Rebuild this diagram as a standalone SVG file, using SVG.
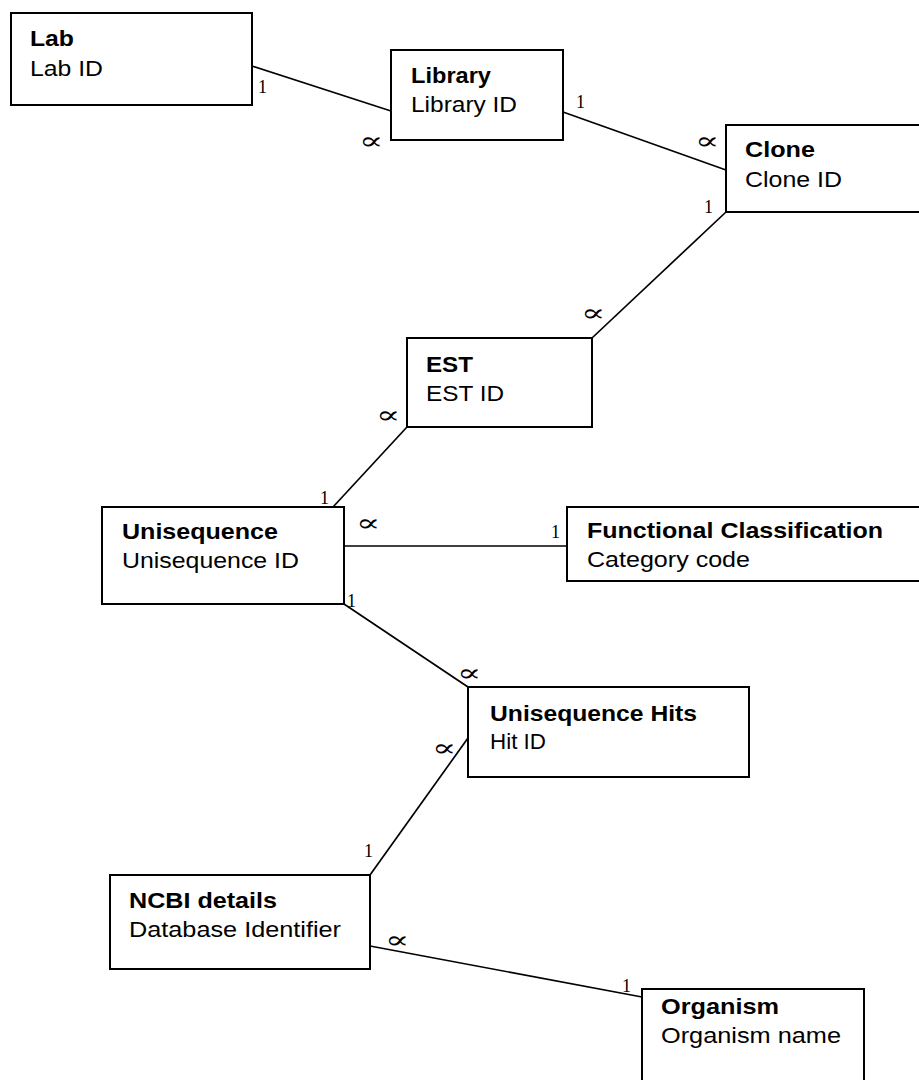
<svg xmlns="http://www.w3.org/2000/svg" width="919" height="1080" viewBox="0 0 919 1080">
<style>
.box{fill:#fff;stroke:#000;stroke-width:2}
.t{font-family:"Liberation Sans",Arial,sans-serif;font-size:22px;fill:#000}
.b{font-weight:bold}
.c line{stroke:#000;stroke-width:1.7}
.n{font-family:"Liberation Serif","Times New Roman",serif;font-size:18px;fill:#000}
.p{font-family:"DejaVu Serif","Liberation Serif",serif;font-size:24px;fill:#000;text-anchor:middle}
</style>
<rect width="919" height="1080" fill="#fff"/>
<g id="connectors" class="c">
<line x1="252" y1="66" x2="391" y2="111"/>
<line x1="563" y1="112" x2="726" y2="170"/>
<line x1="726" y1="212" x2="592" y2="338"/>
<line x1="407" y1="427" x2="333" y2="507"/>
<line x1="344" y1="546" x2="567" y2="546"/>
<line x1="344" y1="604" x2="468" y2="687"/>
<line x1="468" y1="738" x2="370" y2="875"/>
<line x1="370" y1="946" x2="642" y2="997"/>
</g>
<g id="cardinalities">
<text class="n" x="258" y="93">1</text>
<text class="p" transform="translate(371,141) scale(1.5,1)" y="7.5">∝</text>
<text class="n" x="576" y="108">1</text>
<text class="p" transform="translate(707,141) scale(1.5,1)" y="7.5">∝</text>
<text class="n" x="704" y="213">1</text>
<text class="p" transform="translate(593,313) scale(1.5,1)" y="7.5">∝</text>
<text class="p" transform="translate(388,415) scale(1.5,1)" y="7.5">∝</text>
<text class="n" x="320" y="504">1</text>
<text class="p" transform="translate(368,523) scale(1.5,1)" y="7.5">∝</text>
<text class="n" x="551" y="538">1</text>
<text class="n" x="347" y="607">1</text>
<text class="p" transform="translate(469,673) scale(1.5,1)" y="7.5">∝</text>
<text class="p" transform="translate(444,748) scale(1.5,1)" y="7.5">∝</text>
<text class="n" x="364" y="857">1</text>
<text class="p" transform="translate(397,940) scale(1.5,1)" y="7.5">∝</text>
<text class="n" x="622" y="992">1</text>
</g>
<g id="lab">
<rect class="box" x="11" y="13" width="241" height="92"/>
<text class="t b" x="30" y="46" textLength="44" lengthAdjust="spacingAndGlyphs">Lab</text>
<text class="t" x="30" y="76" textLength="73" lengthAdjust="spacingAndGlyphs">Lab ID</text>
</g>
<g id="library">
<rect class="box" x="391" y="50" width="172" height="90"/>
<text class="t b" x="411" y="83" textLength="80" lengthAdjust="spacingAndGlyphs">Library</text>
<text class="t" x="411" y="112" textLength="106" lengthAdjust="spacingAndGlyphs">Library ID</text>
</g>
<g id="clone">
<rect class="box" x="726" y="125" width="220" height="87"/>
<text class="t b" x="745" y="157" textLength="70" lengthAdjust="spacingAndGlyphs">Clone</text>
<text class="t" x="745" y="187" textLength="97" lengthAdjust="spacingAndGlyphs">Clone ID</text>
</g>
<g id="est">
<rect class="box" x="407" y="338" width="185" height="89"/>
<text class="t b" x="426" y="372" textLength="47" lengthAdjust="spacingAndGlyphs">EST</text>
<text class="t" x="426" y="401" textLength="78" lengthAdjust="spacingAndGlyphs">EST ID</text>
</g>
<g id="unisequence">
<rect class="box" x="102" y="507" width="242" height="97"/>
<text class="t b" x="122" y="539" textLength="156" lengthAdjust="spacingAndGlyphs">Unisequence</text>
<text class="t" x="122" y="568" textLength="177" lengthAdjust="spacingAndGlyphs">Unisequence ID</text>
</g>
<g id="functional-classification">
<rect class="box" x="567" y="507" width="380" height="74"/>
<text class="t b" x="587" y="538" textLength="296" lengthAdjust="spacingAndGlyphs">Functional Classification</text>
<text class="t" x="587" y="567" textLength="163" lengthAdjust="spacingAndGlyphs">Category code</text>
</g>
<g id="unisequence-hits">
<rect class="box" x="468" y="687" width="281" height="90"/>
<text class="t b" x="490" y="721" textLength="207" lengthAdjust="spacingAndGlyphs">Unisequence Hits</text>
<text class="t" x="490" y="749" textLength="56" lengthAdjust="spacingAndGlyphs">Hit ID</text>
</g>
<g id="ncbi-details">
<rect class="box" x="110" y="875" width="260" height="94"/>
<text class="t b" x="129" y="908" textLength="148" lengthAdjust="spacingAndGlyphs">NCBI details</text>
<text class="t" x="129" y="937" textLength="212" lengthAdjust="spacingAndGlyphs">Database Identifier</text>
</g>
<g id="organism">
<rect class="box" x="642" y="989" width="222" height="120"/>
<text class="t b" x="661" y="1014" textLength="118" lengthAdjust="spacingAndGlyphs">Organism</text>
<text class="t" x="661" y="1043" textLength="180" lengthAdjust="spacingAndGlyphs">Organism name</text>
</g>
</svg>
